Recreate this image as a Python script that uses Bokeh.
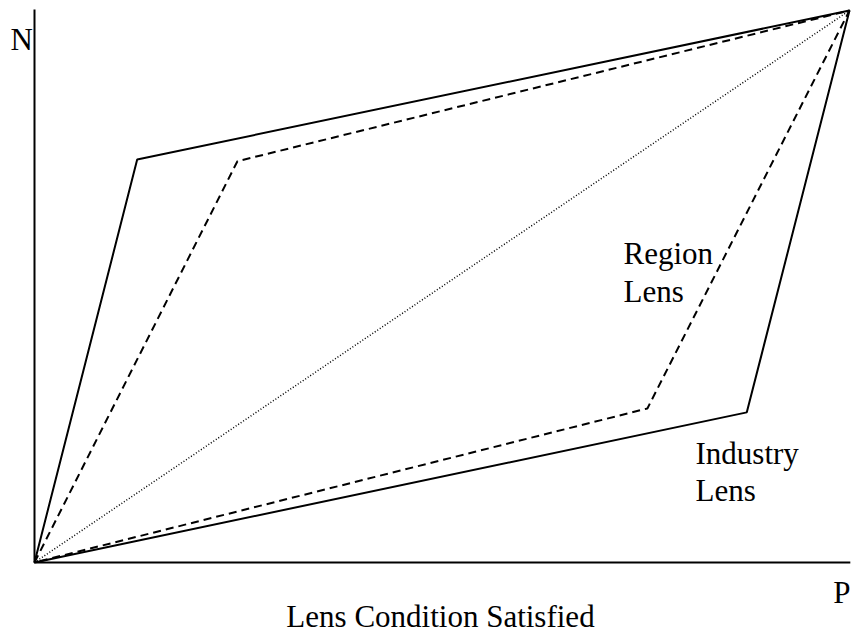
from bokeh.plotting import figure
from bokeh.models import Range1d, Label
from bokeh.embed import file_html
from bokeh.resources import INLINE

# Chart values (fractions of the axes, P horizontal, N vertical)
diag_p = [0.0, 1.0]
diag_n = [0.0, 1.0]

industry_p = [0.0, 0.126, 1.0, 0.874, 0.0]
industry_n = [0.0, 0.730, 1.0, 0.272, 0.0]

region_p = [0.0, 0.249, 1.0, 0.752, 0.0]
region_n = [0.0, 0.727, 1.0, 0.279, 0.0]

axis_p = [0.0, 0.0, 1.001]
axis_n = [1.002, 0.0, 0.0]

x_label = "Lens Condition Satisfied"
p_label = "P"
n_label = "N"
region_label = ["Region", "Lens"]
industry_label = ["Industry", "Lens"]

W, H = 854, 633
px = 815.0
py = 552.0
def dx(img_x):
    return (img_x - 34) / px
def dy(img_y):
    return (562 - img_y) / py

p = figure(width=W, height=H, output_backend="svg", toolbar_location=None,
           x_range=Range1d(dx(0), dx(W)), y_range=Range1d(dy(H), dy(0)),
           min_border=0, min_border_left=0, min_border_right=0,
           min_border_top=0, min_border_bottom=0)
p.axis.visible = False
p.xgrid.visible = False
p.ygrid.visible = False
p.outline_line_color = None
p.background_fill_color = "white"
p.border_fill_color = "white"

p.line(axis_p, axis_n, line_color="black", line_width=2)
p.line(diag_p, diag_n, line_color="black", line_width=1.5, line_dash="1 2")
p.line(region_p, region_n, line_color="black", line_width=2, line_dash="8 5")
p.line(industry_p, industry_n, line_color="black", line_width=2)

FONT = "'Liberation Serif', 'Times New Roman', serif"
FS = "31px"

def lab(text, x, y, align="left"):
    p.add_layout(Label(x=x, y=y, text=text, text_font=FONT, text_font_size=FS,
                       text_color="black", text_align=align,
                       text_baseline="alphabetic", text_line_height=1.0))

lab(n_label, dx(10), dy(39))
lab(p_label, dx(850), dy(592), align="right")
lab(x_label, dx(440), dy(616), align="center")
lab(region_label[0], dx(623), dy(253))
lab(region_label[1], dx(623), dy(291))
lab(industry_label[0], dx(695), dy(453))
lab(industry_label[1], dx(695), dy(490))

open("out.html", "w").write(file_html(p, INLINE))
